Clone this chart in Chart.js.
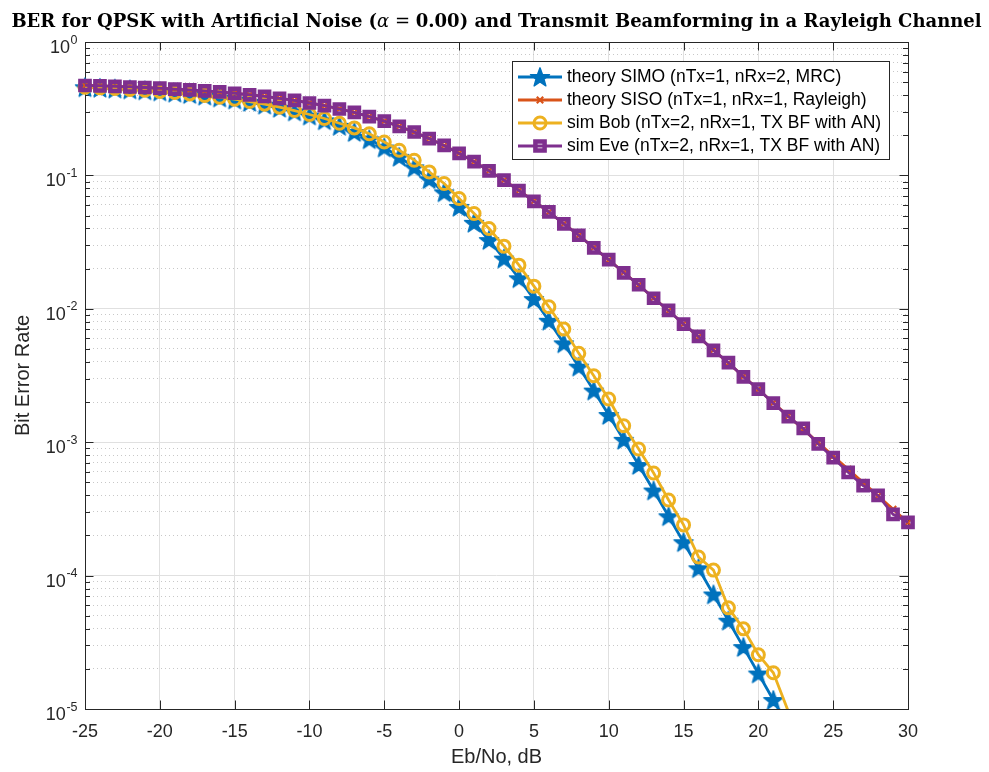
<!DOCTYPE html>
<html>
<head>
<meta charset="utf-8">
<title>BER for QPSK with Artificial Noise</title>
<script src="https://cdn.jsdelivr.net/npm/chart.js@4.4.1/dist/chart.umd.min.js"></script>
<style>
  html, body { margin: 0; padding: 0; background: #fff; }
  #wrap { width: 989px; height: 772px; }
</style>
</head>
<body>
<div id="wrap"><canvas id="ber" width="989" height="772"></canvas></div>
<script>
// Eb/No axis, dB
const ebno = [-25, -24, -23, -22, -21, -20, -19, -18, -17, -16,
              -15, -14, -13, -12, -11, -10, -9, -8, -7, -6,
              -5, -4, -3, -2, -1, 0, 1, 2, 3, 4,
              5, 6, 7, 8, 9, 10, 11, 12, 13, 14,
              15, 16, 17, 18, 19, 20, 21, 22, 23, 24,
              25, 26, 27, 28, 29, 30];

// theory SIMO (nTx=1, nRx=2, MRC)
const berSimo = [0.4579, 0.4528, 0.4471, 0.4407, 0.4336, 0.4256, 0.4167, 0.4068, 0.3958, 0.3836,
                 0.3700, 0.3551, 0.3388, 0.3209, 0.3015, 0.2807, 0.2586, 0.2352, 0.2111, 0.1864,
                 0.1618, 0.1378, 0.1149, 0.09367, 0.07463, 0.05806, 0.04411, 0.03275, 0.02379, 0.01693,
                 0.01183, 0.008129, 0.005506, 0.003683, 0.002438, 0.001599, 0.001041, 0.0006740, 0.0004343, 0.0002784,
                 0.0001780, 0.0001135, 7.222e-5, 4.589e-5, 2.911e-5, 1.844e-5, 1.168e-5, 7.39e-6, null, null,
                 null, null, null, null, null, null];

// theory SISO (nTx=1, nRx=1, Rayleigh)
const berSiso = [0.4719, 0.4685, 0.4647, 0.4604, 0.4556, 0.4502, 0.4442, 0.4375, 0.4301, 0.4217,
                 0.4125, 0.4022, 0.3908, 0.3782, 0.3644, 0.3492, 0.3328, 0.3151, 0.2961, 0.2760,
                 0.2549, 0.2332, 0.2111, 0.1890, 0.1673, 0.1464, 0.1267, 0.1085, 0.09191, 0.07714,
                 0.06418, 0.05300, 0.04347, 0.03546, 0.02878, 0.02327, 0.01875, 0.01507, 0.01208, 0.009665,
                 0.007723, 0.006164, 0.004915, 0.003916, 0.003118, 0.002481, 0.001974, 0.001570, 0.001248, 0.0009923,
                 0.0007887, 0.0006268, 0.0004981, 0.0003958, 0.0003144, 0.0002498];

// sim Bob (nTx=2, nRx=1, TX BF with AN)
const berBob = [0.4585, 0.4534, 0.4478, 0.4413, 0.4343, 0.4264, 0.4178, 0.4080, 0.3974, 0.3855,
                0.3725, 0.3580, 0.3420, 0.3248, 0.3062, 0.2862, 0.2670, 0.2460, 0.2270, 0.2050,
                0.1782, 0.1544, 0.1300, 0.1062, 0.0870, 0.0671, 0.0518, 0.0400, 0.0295, 0.02125,
                0.01479, 0.01035, 0.007047, 0.004634, 0.003148, 0.002107, 0.001329, 0.000889, 0.000588, 0.000369,
                0.000240, 0.000138, 0.000110, 5.73e-5, 3.99e-5, 2.55e-5, 1.87e-5, 9.6e-6, null, null,
                null, null, null, null, null, null];

// sim Eve (nTx=2, nRx=1, TX BF with AN)
const berEve = [0.4722, 0.4688, 0.4651, 0.4601, 0.4560, 0.4505, 0.4440, 0.4379, 0.4298, 0.4221,
                0.4129, 0.4019, 0.3912, 0.3779, 0.3648, 0.3489, 0.3333, 0.3146, 0.2966, 0.2757,
                0.2553, 0.2328, 0.2115, 0.1886, 0.1677, 0.1461, 0.1270, 0.1082, 0.09220, 0.07690,
                0.06395, 0.05320, 0.04330, 0.03560, 0.02865, 0.02340, 0.01862, 0.01515, 0.01200, 0.009720,
                0.007680, 0.006210, 0.004880, 0.003950, 0.003090, 0.002500, 0.001960, 0.001555, 0.001270, 0.0009700,
                0.0007650, 0.0005950, 0.0004720, 0.0003990, 0.0002880, 0.0002510];

const seriesNames = ['theory SIMO (nTx=1, nRx=2, MRC)',
                     'theory SISO (nTx=1, nRx=1, Rayleigh)',
                     'sim Bob (nTx=2, nRx=1, TX BF with AN)',
                     'sim Eve (nTx=2, nRx=1, TX BF with AN)'];

const xMin = -25, xMax = 30, xStep = 5;
const yDecades = [-5, -4, -3, -2, -1, 0];
const yMin = 1e-5, yMax = 1;

const BLUE = '#0072BD', ORANGE = '#D95319', YELLOW = '#EDB120', PURPLE = '#7E2F8E';
const AXIS = '#262626';
const SANS = '"Liberation Sans", Arial, Helvetica, sans-serif';
const SERIF = '"DejaVu Serif", "Liberation Serif", serif';

function pts(ys) {
    return ebno.map((x, i) => ({x: x, y: ys[i]})).filter(p => p.y !== null);
}

function isDecade(v) {
    const l = Math.log10(v);
    return Math.abs(l - Math.round(l)) < 1e-6;
}

// filled pentagram marker like matlab's 'p'
function makeStar(color, R) {
    const c = document.createElement('canvas');
    const s = Math.ceil(R * 2 + 4);
    c.width = s; c.height = s;
    const g = c.getContext('2d');
    g.translate(s / 2, s / 2 + 0.8);
    g.beginPath();
    for (let i = 0; i < 10; i++) {
        const r = i % 2 ? R * 0.42 : R;
        const a = -Math.PI / 2 + i * Math.PI / 5;
        g.lineTo(r * Math.cos(a), r * Math.sin(a));
    }
    g.closePath();
    g.fillStyle = color;
    g.fill();
    g.lineWidth = 1.4;
    g.lineJoin = 'round';
    g.strokeStyle = color;
    g.stroke();
    return c;
}
const starImg = makeStar(BLUE, 10);

// hide markers below the axis, like matlab does
const visR = r => ctx => (ctx.raw && ctx.raw.y >= yMin) ? r : 0;
const CLIP = {left: 12, top: 12, right: 12, bottom: 0};

const matlabLook = {
    id: 'matlabLook',
    beforeDatasetsDraw(chart) {
        const {ctx, chartArea: a} = chart;
        const xs = chart.scales.x, ys = chart.scales.y;
        ctx.save();
        ctx.strokeStyle = AXIS;
        ctx.lineWidth = 1;
        ctx.beginPath();
        // inward ticks, x
        for (let v = xMin; v <= xMax; v += xStep) {
            const px = Math.round(xs.getPixelForValue(v)) + 0.5;
            ctx.moveTo(px, a.bottom); ctx.lineTo(px, a.bottom - 8.5);
            ctx.moveTo(px, a.top); ctx.lineTo(px, a.top + 8.5);
        }
        // inward ticks, y
        ys.ticks.forEach(t => {
            const py = Math.round(ys.getPixelForValue(t.value)) + 0.5;
            const len = isDecade(t.value) ? 8.5 : 5;
            ctx.moveTo(a.left, py); ctx.lineTo(a.left + len, py);
            ctx.moveTo(a.right, py); ctx.lineTo(a.right - len, py);
        });
        ctx.stroke();
        ctx.strokeRect(Math.round(a.left) + 0.5, Math.round(a.top) + 0.5,
                       Math.round(a.right - a.left), Math.round(a.bottom - a.top));
        ctx.restore();
    },
    afterDatasetsDraw(chart) {
        const {ctx, chartArea: a} = chart;
        const dss = chart.data.datasets;
        ctx.save();
        ctx.font = '17.5px ' + SANS;
        const tw = Math.max(...dss.map(d => ctx.measureText(d.label).width));
        const w = Math.round(6 + 44 + 5 + tw + 8);
        const h = 98;
        const right = Math.round(a.right) - 19, top = Math.round(a.top) + 19;
        const left = right - w;
        ctx.fillStyle = '#fff';
        ctx.fillRect(left, top, w, h);
        ctx.strokeStyle = AXIS;
        ctx.lineWidth = 1;
        ctx.strokeRect(left + 0.5, top + 0.5, w, h);
        dss.forEach((ds, i) => {
            const y = top + 16 + i * 23;
            ctx.strokeStyle = ds.borderColor;
            ctx.lineWidth = ds.borderWidth;
            ctx.beginPath();
            ctx.moveTo(left + 6, y); ctx.lineTo(left + 50, y);
            ctx.stroke();
            ctx.fillStyle = ds.pointBackgroundColor || ds.borderColor;
            ctx.strokeStyle = ds.pointBorderColor || ds.borderColor;
            ctx.lineWidth = ds.pointBorderWidth;
            Chart.helpers.drawPoint(ctx, {pointStyle: ds.pointStyle, radius: ds.legendRadius,
                                          rotation: 0, borderWidth: ds.pointBorderWidth}, left + 28, y);
            ctx.fillStyle = '#000';
            ctx.textAlign = 'left';
            ctx.textBaseline = 'middle';
            ctx.fillText(ds.label, left + 55, y + 0.5);
        });
        ctx.restore();
    },
    afterDraw(chart) {
        const {ctx, chartArea: a} = chart;
        const ys = chart.scales.y;
        ctx.save();
        ctx.fillStyle = AXIS;
        ctx.textAlign = 'right';
        ctx.textBaseline = 'alphabetic';
        // y tick labels as 10^n
        yDecades.forEach(d => {
            const py = ys.getPixelForValue(Math.pow(10, d));
            const exp = String(d);
            ctx.font = '12.5px ' + SANS;
            const ew = ctx.measureText(exp).width;
            ctx.fillText(exp, a.left - 7.5, py + 1.5);
            ctx.font = '18px ' + SANS;
            ctx.fillText('10', a.left - 8 - ew, py + 11);
        });
        // title, mixed latex-like styles
        const parts = [
            {t: 'BER for QPSK with Artificial Noise (', f: 'bold'},
            {t: 'α', f: 'italic'},
            {t: ' = ', f: 'normal'},
            {t: '0.00', f: 'bold'},
            {t: ') and Transmit Beamforming in a Rayleigh Channel', f: 'bold'}
        ];
        const size = 18;
        let total = 0;
        parts.forEach(p => {
            ctx.font = p.f + ' ' + size + 'px ' + SERIF;
            p.w = ctx.measureText(p.t).width;
            total += p.w;
        });
        let x = (a.left + a.right) / 2 - total / 2;
        ctx.fillStyle = '#000';
        ctx.textAlign = 'left';
        parts.forEach(p => {
            ctx.font = p.f + ' ' + size + 'px ' + SERIF;
            ctx.fillText(p.t, x, 26.5);
            x += p.w;
        });
        ctx.restore();
    }
};

const chart = new Chart(document.getElementById('ber').getContext('2d'), {
    type: 'line',
    data: {
        datasets: [{
            label: seriesNames[0],
            data: pts(berSimo),
            borderColor: BLUE,
            backgroundColor: BLUE,
            borderWidth: 2.8,
            pointStyle: starImg,
            pointRadius: visR(10),
            pointBorderWidth: 1,
            legendRadius: 10,
            order: 4,
            clip: CLIP
        }, {
            label: seriesNames[1],
            data: pts(berSiso),
            borderColor: ORANGE,
            backgroundColor: ORANGE,
            borderWidth: 2.8,
            pointStyle: 'crossRot',
            pointRadius: visR(4.5),
            pointBorderWidth: 2.2,
            legendRadius: 4.5,
            order: 3,
            clip: CLIP
        }, {
            label: seriesNames[2],
            data: pts(berBob),
            borderColor: YELLOW,
            backgroundColor: YELLOW,
            borderWidth: 2.8,
            pointStyle: 'circle',
            pointRadius: visR(6),
            pointBorderWidth: 3,
            pointBackgroundColor: 'rgba(0,0,0,0)',
            pointBorderColor: YELLOW,
            legendRadius: 6,
            order: 2,
            clip: CLIP
        }, {
            label: seriesNames[3],
            data: pts(berEve),
            borderColor: PURPLE,
            backgroundColor: PURPLE,
            borderWidth: 2.8,
            pointStyle: 'rect',
            pointRadius: visR(6.5),
            pointBorderWidth: 4.5,
            pointBackgroundColor: 'rgba(0,0,0,0)',
            pointBorderColor: PURPLE,
            legendRadius: 6.5,
            order: 1,
            clip: CLIP
        }]
    },
    options: {
        responsive: false,
        animation: false,
        events: [],
        layout: {
            padding: {top: 42, right: 81, left: 0, bottom: 0}
        },
        elements: {
            line: {tension: 0}
        },
        plugins: {
            legend: {display: false},
            tooltip: {enabled: false},
            title: {display: false}
        },
        scales: {
            x: {
                type: 'linear',
                min: xMin,
                max: xMax,
                afterFit: s => { s.height = 63; },
                ticks: {
                    stepSize: xStep,
                    autoSkip: false,
                    maxRotation: 0,
                    padding: 12,
                    color: AXIS,
                    font: {family: SANS, size: 18}
                },
                grid: {
                    color: '#e0e0e0',
                    lineWidth: 1,
                    drawTicks: false
                },
                border: {display: false},
                title: {
                    display: true,
                    text: 'Eb/No, dB',
                    color: AXIS,
                    font: {family: SANS, size: 20},
                    padding: 3
                }
            },
            y: {
                type: 'logarithmic',
                min: yMin,
                max: yMax,
                afterFit: s => { s.width = 85; },
                afterBuildTicks: s => {
                    const t = [];
                    yDecades.forEach(d => {
                        const top = d < 0 ? 9 : 1;
                        for (let m = 1; m <= top; m++) t.push({value: m * Math.pow(10, d)});
                    });
                    s.ticks = t;
                },
                ticks: {display: false},
                grid: {
                    color: c => isDecade(c.tick.value) ? '#e0e0e0' : '#c8c8c8',
                    lineWidth: 1,
                    drawTicks: false
                },
                border: {
                    display: false,
                    dash: c => (c.tick && !isDecade(c.tick.value)) ? [1, 3] : []
                },
                title: {
                    display: true,
                    text: 'Bit Error Rate',
                    color: AXIS,
                    font: {family: SANS, size: 20},
                    padding: 11
                }
            }
        }
    },
    plugins: [matlabLook]
});
</script>
</body>
</html>
